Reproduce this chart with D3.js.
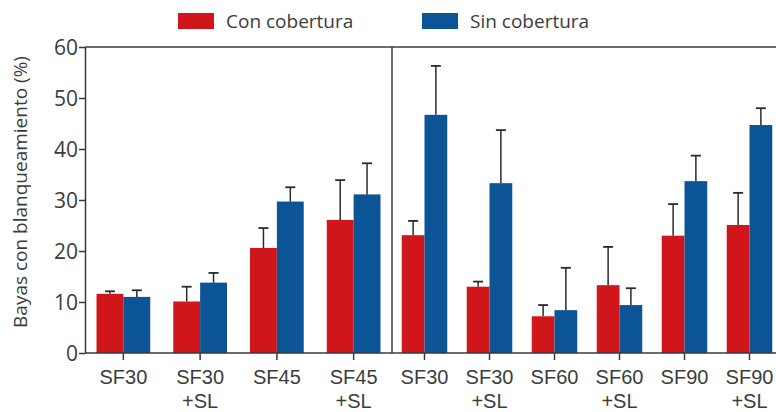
<!DOCTYPE html>
<html>
<head>
<meta charset="utf-8">
<script src="https://cdn.jsdelivr.net/npm/d3@7/dist/d3.min.js"></script>
<style>
  html, body { margin: 0; padding: 0; background: #fff; }
  svg { display: block; font-family: "Open Sans", "Noto Sans", sans-serif; }
</style>
</head>
<body>
<svg id="chart" width="776" height="412"></svg>
<script>
// Treatments in each panel
const leftCategories  = ["SF30", "SF30+SL", "SF45", "SF45+SL"];
const rightCategories = ["SF30", "SF30+SL", "SF60", "SF60+SL", "SF90", "SF90+SL"];
const seriesNames = ["Con cobertura", "Sin cobertura"];
const seriesColors = ["#d0161b", "#0b5597"];

// Mean bleached berries (%) and upper error bar ends
const leftCon      = [11.6, 10.1, 20.6, 26.1];
const leftConErr   = [12.1, 13.0, 24.5, 33.9];
const leftSin      = [11.0, 13.8, 29.7, 31.1];
const leftSinErr   = [12.3, 15.7, 32.5, 37.2];
const rightCon     = [23.1, 13.0, 7.2, 13.3, 23.0, 25.1];
const rightConErr  = [25.9, 14.0, 9.4, 20.8, 29.2, 31.4];
const rightSin     = [46.7, 33.3, 8.4, 9.4, 33.7, 44.7];
const rightSinErr  = [56.3, 43.7, 16.7, 12.7, 38.7, 48.0];
const yTicks = [0, 10, 20, 30, 40, 50, 60];

const svg = d3.select("#chart");
const x0 = 85, xMid = 392, xEnd = 782, yTop = 47, yBottom = 353;
const axisColor = "#3a3a3a";

const y = d3.scaleLinear().domain([0, 60]).range([yBottom, yTop]);

const panels = [
  { cats: leftCategories, con: leftCon, conErr: leftConErr, sin: leftSin, sinErr: leftSinErr, range: [x0, xMid] },
  { cats: rightCategories, con: rightCon, conErr: rightConErr, sin: rightSin, sinErr: rightSinErr, range: [xMid, xEnd] }
];

panels.forEach(p => {
  const x = d3.scaleBand().domain(d3.range(p.cats.length)).range(p.range)
    .paddingInner(0.3).paddingOuter(0.15);
  const xs = d3.scaleBand().domain([0, 1]).range([0, x.bandwidth()]);
  const rows = p.cats.map((c, i) => ({
    i, vals: [p.con[i], p.sin[i]], errs: [p.conErr[i], p.sinErr[i]]
  }));
  const g = svg.append("g");
  rows.forEach(r => {
    [0, 1].forEach(s => {
      const bx = x(r.i) + xs(s);
      g.append("rect")
        .attr("x", bx).attr("y", y(r.vals[s]))
        .attr("width", xs.bandwidth()).attr("height", y(0) - y(r.vals[s]))
        .attr("fill", seriesColors[s]);
      const cx = bx + xs.bandwidth() / 2;
      g.append("line")
        .attr("x1", cx).attr("x2", cx)
        .attr("y1", y(r.vals[s])).attr("y2", y(r.errs[s]))
        .attr("stroke", "#2b2b2b").attr("stroke-width", 1.5);
      g.append("line")
        .attr("x1", cx - 5).attr("x2", cx + 5)
        .attr("y1", y(r.errs[s])).attr("y2", y(r.errs[s]))
        .attr("stroke", "#2b2b2b").attr("stroke-width", 1.8);
    });
  });

  // category axis with tick marks at group centres
  const ax = svg.append("g").attr("transform", `translate(0,${yBottom})`)
    .call(d3.axisBottom(x).tickSize(7).tickSizeOuter(0).tickFormat(""));
  ax.select(".domain").remove();
  ax.selectAll(".tick line").attr("stroke", axisColor).attr("stroke-width", 1.5);
  ax.selectAll(".tick").each(function(d) {
    const parts = p.cats[d].split("+");
    const t = d3.select(this).append("text")
      .attr("fill", "#3c3c3c").attr("font-size", 20).attr("text-anchor", "middle");
    t.append("tspan").attr("x", 0).attr("y", 31).text(parts[0]);
    if (parts[1]) t.append("tspan").attr("x", 0).attr("y", 55).text("+" + parts[1]);
  });
});

// frame lines
svg.append("line").attr("x1", x0).attr("x2", xEnd).attr("y1", yTop).attr("y2", yTop)
  .attr("stroke", axisColor).attr("stroke-width", 1.5);
svg.append("line").attr("x1", x0).attr("x2", xEnd).attr("y1", yBottom).attr("y2", yBottom)
  .attr("stroke", axisColor).attr("stroke-width", 1.5);
svg.append("line").attr("x1", xMid).attr("x2", xMid).attr("y1", yTop).attr("y2", yBottom)
  .attr("stroke", axisColor).attr("stroke-width", 1.5);

// value axis
const ay = svg.append("g").attr("transform", `translate(${x0},0)`)
  .call(d3.axisLeft(y).tickValues(yTicks).tickSize(6).tickSizeOuter(0));
ay.select(".domain").attr("stroke", axisColor).attr("stroke-width", 1.5);
ay.selectAll(".tick line").attr("stroke", axisColor).attr("stroke-width", 1.5);
ay.selectAll(".tick text").attr("fill", "#3c3c3c").attr("font-size", 21)
  .attr("font-family", "'Open Sans', sans-serif").attr("x", -7).attr("dy", "0.35em");

svg.append("text")
  .attr("transform", "translate(27,192) rotate(-90)")
  .attr("text-anchor", "middle").attr("fill", "#3c3c3c").attr("font-size", 19)
  .text("Bayas con blanqueamiento (%)");

// legend
const legendX = [178, 422];
seriesNames.forEach((name, i) => {
  svg.append("rect").attr("x", legendX[i]).attr("y", 13).attr("width", 36).attr("height", 16)
    .attr("fill", seriesColors[i]);
  svg.append("text").attr("x", legendX[i] + 48).attr("y", 28)
    .attr("fill", "#3c3c3c").attr("font-size", 19).text(name);
});
</script>
</body>
</html>
